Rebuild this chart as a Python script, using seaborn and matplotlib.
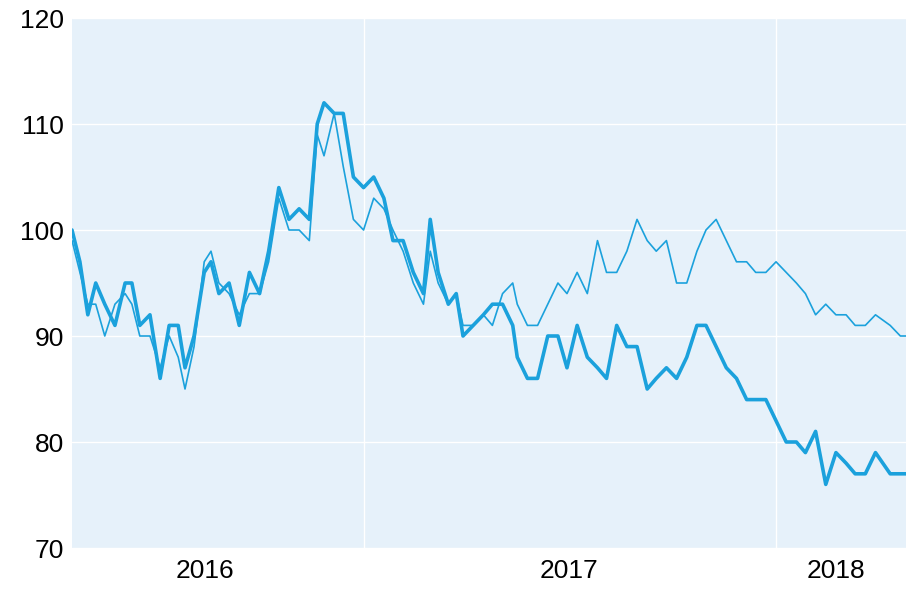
import pandas as pd
import matplotlib
matplotlib.use("Agg")
import matplotlib.pyplot as plt
import seaborn as sns

# days relative to 2017-01-01
day_offsets = [-258, -251, -244, -237, -229, -220, -211, -205, -198, -189,
               -180, -172, -164, -158, -150, -141, -135, -128, -119, -110,
               -101, -92, -84, -75, -66, -57, -48, -41, -35, -26,
               -18, -9, 0, 9, 18, 26, 35, 44, 53, 59,
               66, 75, 82, 88, 97, 106, 114, 123, 132, 136,
               145, 154, 163, 172, 180, 189, 198, 207, 215, 224,
               233, 242, 251, 259, 268, 277, 286, 295, 303, 312,
               321, 330, 339, 347, 356, 365, 374, 383, 391, 400,
               409, 418, 427, 435, 444, 453, 466, 475, 480]

thick_values = [100, 97, 92, 95, 93, 91, 95, 95, 91, 92,
                86, 91, 91, 87, 90, 96, 97, 94, 95, 91,
                96, 94, 98, 104, 101, 102, 101, 110, 112, 111,
                111, 105, 104, 105, 103, 99, 99, 96, 94, 101,
                96, 93, 94, 90, 91, 92, 93, 93, 91, 88,
                86, 86, 90, 90, 87, 91, 88, 87, 86, 91,
                89, 89, 85, 86, 87, 86, 88, 91, 91, 89,
                87, 86, 84, 84, 84, 82, 80, 80, 79, 81,
                76, 79, 78, 77, 77, 79, 77, 77, 77]

thin_values = [99, 96, 93, 93, 90, 93, 94, 93, 90, 90,
               87, 90, 88, 85, 89, 97, 98, 95, 94, 92,
               94, 94, 97, 103, 100, 100, 99, 109, 107, 111,
               106, 101, 100, 103, 102, 100, 98, 95, 93, 98,
               95, 93, 94, 91, 91, 92, 91, 94, 95, 93,
               91, 91, 93, 95, 94, 96, 94, 99, 96, 96,
               98, 101, 99, 98, 99, 95, 95, 98, 100, 101,
               99, 97, 97, 96, 96, 97, 96, 95, 94, 92,
               93, 92, 92, 91, 91, 92, 91, 90, 90]

year_labels = ["2016", "2017", "2018"]
year_label_dates = ["2016-08-14", "2017-07-02", "2018-02-23"]
year_starts = ["2017-01-01", "2018-01-01"]

dates = pd.Timestamp("2017-01-01") + pd.to_timedelta(day_offsets, unit="D")
df = pd.DataFrame({"date": dates, "thick": thick_values, "thin": thin_values})

sns.set_style("white")
plt.rcParams["font.family"] = ["Liberation Sans", "DejaVu Sans"]

color = "#1ba1dc"
fig = plt.figure(figsize=(9.08, 6.02), dpi=100)
ax = fig.add_axes([72 / 908, 54 / 602, 834 / 908, 530 / 602])
ax.set_facecolor("#e6f1fa")

sns.lineplot(data=df, x="date", y="thin", ax=ax, color=color, linewidth=1.2)
sns.lineplot(data=df, x="date", y="thick", ax=ax, color=color, linewidth=2.6)

ax.set_xlim(dates[0], dates[-1])
ax.set_ylim(70, 120)
ax.set_yticks(range(70, 121, 10))
ax.grid(axis="y", color="white", linewidth=1)
for d in year_starts:
    ax.axvline(pd.Timestamp(d), color="white", linewidth=1, zorder=0.5)
ax.set_xticks([pd.Timestamp(d) for d in year_label_dates])
ax.set_xticklabels(year_labels)
ax.tick_params(axis="both", length=0, labelsize=19, colors="black")
ax.tick_params(axis="x", pad=8)
ax.tick_params(axis="y", pad=6)
ax.set_xlabel("")
ax.set_ylabel("")
for s in ax.spines.values():
    s.set_visible(False)

fig.savefig("out.png", dpi=100)
